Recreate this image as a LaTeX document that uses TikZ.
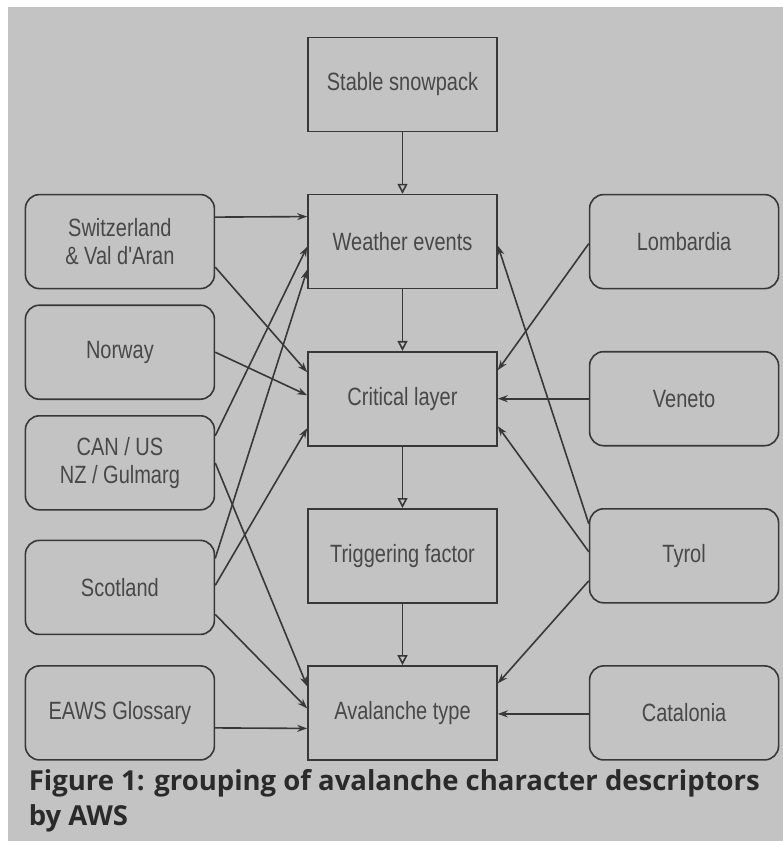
\documentclass[tikz,border=0pt]{standalone}
\usepackage{fontspec}
\setmainfont{Liberation Sans}
\newfontfamily\boxfont[FakeStretch=0.8]{Liberation Sans}
\newfontfamily\capfont{Open Sans}
\usetikzlibrary{arrows.meta,positioning}

\definecolor{paper}{HTML}{C3C3C3}
\definecolor{ink}{HTML}{383838}
\definecolor{label}{HTML}{484848}
\definecolor{capink}{HTML}{2A2A2A}

\begin{document}
\begin{tikzpicture}[
                        ->,
                        >={Stealth[length=10pt,width=7pt]},
                        x=1pt, y=-1pt,
                        node distance=61.5pt and 92pt,
                        line width=1.6pt,
                        color=ink
                    ]
                    \tikzstyle{stage}=[rectangle,draw=ink,minimum width=189pt,minimum height=94pt,inner sep=0pt,align=center,text=label,font=\boxfont\fontsize{25}{28}\selectfont]
                    \tikzstyle{region}=[stage,rounded corners=14pt]
                    \tikzstyle{flow}=[-{Triangle[open,length=10pt,width=10pt,fill=paper]}]

                    \useasboundingbox (0,0) rectangle (783,841);
                    \fill[paper] (8,7) rectangle (783,841);

                    % centre column
                    \node[stage] (stable) at (402.5,84.5) {Stable snowpack};
                    \node[stage] (weather)  [below=of stable]   {Weather events};
                    \node[stage] (critical) [below=of weather]  {Critical layer};
                    \node[stage] (trigger)  [below=of critical] {Triggering factor};
                    \node[stage] (aval)     [below=of trigger]  {Avalanche type};

                    % left column
                    \node[region] (swiss)    [left=92pt of weather]   {Switzerland\\\& Val d'Aran};
                    \node[region] (norway)   [below=15pt of swiss]    {Norway};
                    \node[region] (canus)    [below=15pt of norway]   {CAN / US\\NZ / Gulmarg};
                    \node[region] (scotland) [below=29pt of canus]    {Scotland};
                    \node[region] (eaws)     [left=92pt of aval]      {EAWS Glossary};

                    % right column
                    \node[region] (lombardia) [right=91pt of weather]  {Lombardia};
                    \node[region] (veneto)    [right=91pt of critical] {Veneto};
                    \node[region] (tyrol)     [right=91pt of trigger]  {Tyrol};
                    \node[region] (catalonia) [right=91pt of aval]     {Catalonia};

                    \node[anchor=north west,inner sep=0pt,align=left,text=capink,
                          font=\capfont\bfseries\fontsize{27.5}{35}\selectfont] (caption) at (28,769)
                          {Figure 1: grouping of avalanche character descriptors\\by AWS};

                    \path[flow]
                    (stable)   edge (weather)
                    (weather)  edge (critical)
                    (critical) edge (trigger)
                    (trigger)  edge (aval) ;

                    \path
                    ([yshift=24.5pt]swiss.east)    edge ([yshift=25pt]weather.west)
                    ([yshift=-25.5pt]swiss.east)   edge ([yshift=26.5pt]critical.west)
                    (norway.east)                  edge ([yshift=3.5pt]critical.west)
                    ([yshift=27pt]canus.east)      edge ([yshift=-5pt]weather.west)
                    (canus.east)                   edge ([yshift=26.5pt]aval.west)
                    ([yshift=29pt]scotland.east)   edge ([yshift=-28pt]weather.west)
                    ([yshift=2pt]scotland.east)    edge ([yshift=-29.5pt]critical.west)
                    ([yshift=-27pt]scotland.east)  edge ([yshift=4.5pt]aval.west)
                    ([yshift=-15pt]eaws.east)      edge ([yshift=-15.5pt]aval.west)
                    ([yshift=-2pt]lombardia.west)  edge ([yshift=28.5pt]critical.east)
                    (veneto.west)                  edge (critical.east)
                    ([yshift=32pt]tyrol.west)      edge ([yshift=-4pt]weather.east)
                    ([yshift=4pt]tyrol.west)       edge ([yshift=-27.5pt]critical.east)
                    ([yshift=-25pt]tyrol.west)     edge ([yshift=29.5pt]aval.east)
                    ([yshift=-1pt]catalonia.west)  edge ([yshift=-1pt]aval.east) ;
\end{tikzpicture}
\end{document}
